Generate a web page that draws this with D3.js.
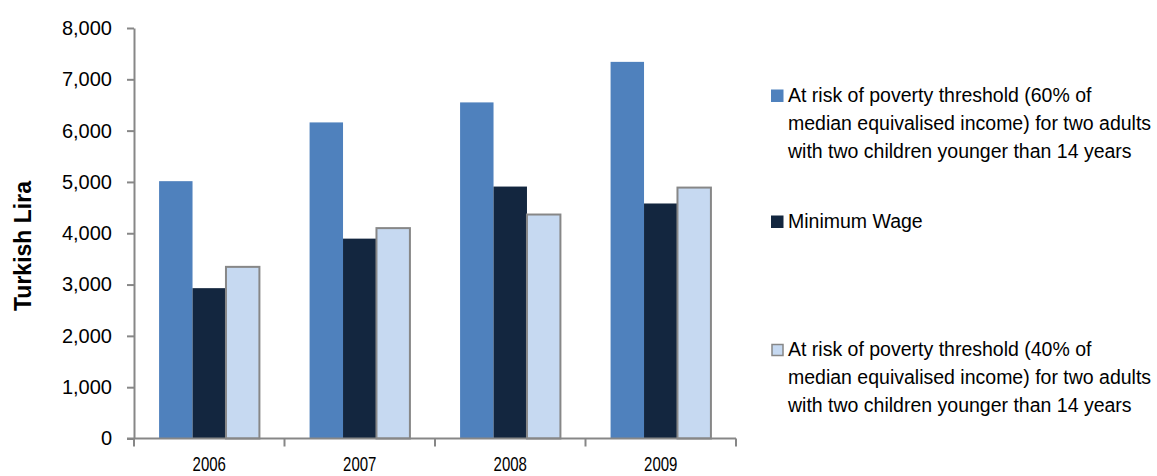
<!DOCTYPE html>
<html>
<head>
<meta charset="utf-8">
<script src="https://cdn.jsdelivr.net/npm/d3@7"></script>
<style>
  html, body { margin: 0; padding: 0; background: #ffffff; }
  svg { display: block; }
  text { font-family: "Liberation Sans", Arial, sans-serif; fill: #000; }
</style>
</head>
<body>
<svg id="chart" width="1157" height="476"></svg>
<script>
// Annual amounts in Turkish Lira
const years = ["2006", "2007", "2008", "2009"];
const seriesKeys = ["pov60", "minWage", "pov40"];
const pov60 = [5015, 6160, 6550, 7340];
const minWage = [2930, 3895, 4910, 4580];
const pov40 = [3345, 4100, 4365, 4890];
const yTicks = [0, 1000, 2000, 3000, 4000, 5000, 6000, 7000, 8000];
const legendLabels = [
  ["At risk of poverty threshold (60% of", "median equivalised income) for two adults", "with two children younger than 14 years"],
  ["Minimum Wage"],
  ["At risk of poverty threshold (40% of", "median equivalised income) for two adults", "with two children younger than 14 years"]
];
const yTitle = "Turkish Lira";

const values = { pov60, minWage, pov40 };
const fills = { pov60: "#4f81bd", minWage: "#13263f", pov40: "#c6d9f1" };
const strokes = { pov60: "none", minWage: "none", pov40: "#878787" };

const svg = d3.select("#chart");
const axisColor = "#878787";

const x0 = d3.scaleBand().domain(years).range([134, 736]).paddingInner(0).paddingOuter(0);
const x1 = d3.scaleBand().domain(seriesKeys).range([0, x0.bandwidth()]).paddingInner(0).paddingOuter(0.75);
const y = d3.scaleLinear().domain([0, 8000]).range([438.5, 28]);

// Bars
const groups = svg.append("g").selectAll("g")
  .data(years)
  .join("g")
  .attr("transform", d => `translate(${x0(d)},0)`);

groups.selectAll("rect")
  .data((d, i) => seriesKeys.map(k => ({ key: k, value: values[k][i] })))
  .join("rect")
  .attr("x", d => x1(d.key))
  .attr("y", d => y(d.value))
  .attr("width", x1.bandwidth())
  .attr("height", d => y(0) - y(d.value))
  .attr("fill", d => fills[d.key])
  .attr("stroke", d => strokes[d.key])
  .attr("stroke-width", 2);

// Y axis
const yAxis = d3.axisLeft(y)
  .tickValues(yTicks)
  .tickFormat(d3.format(","))
  .tickSize(7)
  .tickSizeOuter(0)
  .tickPadding(15);

const gy = svg.append("g")
  .attr("transform", "translate(134,0)")
  .call(yAxis);
gy.select(".domain").attr("stroke", axisColor).attr("stroke-width", 2);
gy.selectAll(".tick line").attr("stroke", axisColor).attr("stroke-width", 2);
gy.selectAll(".tick text")
  .attr("font-size", 20)
  .attr("font-family", "'Liberation Sans', Arial, sans-serif")
  .attr("fill", "#000");

// X axis line with boundary ticks
const gx = svg.append("g");
gx.append("line")
  .attr("x1", x0.range()[0] - 7).attr("x2", x0.range()[1])
  .attr("y1", y(0)).attr("y2", y(0))
  .attr("stroke", axisColor).attr("stroke-width", 2);

const boundaries = years.map(d => x0(d)).concat([x0.range()[1]]);
gx.selectAll("line.tick")
  .data(boundaries)
  .join("line")
  .attr("class", "tick")
  .attr("x1", d => d).attr("x2", d => d)
  .attr("y1", y(0)).attr("y2", y(0) + 8)
  .attr("stroke", axisColor).attr("stroke-width", 2);

gx.selectAll("text")
  .data(years)
  .join("text")
  .attr("text-anchor", "middle")
  .attr("font-size", 15)
  .attr("transform", d => `translate(${x0(d) + x0.bandwidth() / 2},471) scale(1,1.4)`)
  .text(d => d);

// Y axis title
svg.append("text")
  .attr("transform", "translate(31,246) rotate(-90)")
  .attr("text-anchor", "middle")
  .attr("font-size", 23)
  .attr("font-weight", "bold")
  .text(yTitle);

// Legend
const legendTops = [102, 228, 356];
const legend = svg.append("g");
const items = legend.selectAll("g")
  .data(seriesKeys)
  .join("g")
  .attr("transform", (d, i) => `translate(0,${legendTops[i]})`);

items.append("rect")
  .attr("x", d => d === "pov40" ? 772 : 771)
  .attr("y", d => d === "pov40" ? -11.5 : -12.5)
  .attr("width", d => d === "pov40" ? 11 : 12.5)
  .attr("height", d => d === "pov40" ? 11 : 12.5)
  .attr("fill", d => fills[d])
  .attr("stroke", d => strokes[d])
  .attr("stroke-width", 1.5);

items.append("text")
  .attr("font-size", 19.5)
  .selectAll("tspan")
  .data((d, i) => legendLabels[i])
  .join("tspan")
  .attr("x", 788)
  .attr("y", (d, j) => j * 28)
  .text(d => d);
</script>
</body>
</html>
